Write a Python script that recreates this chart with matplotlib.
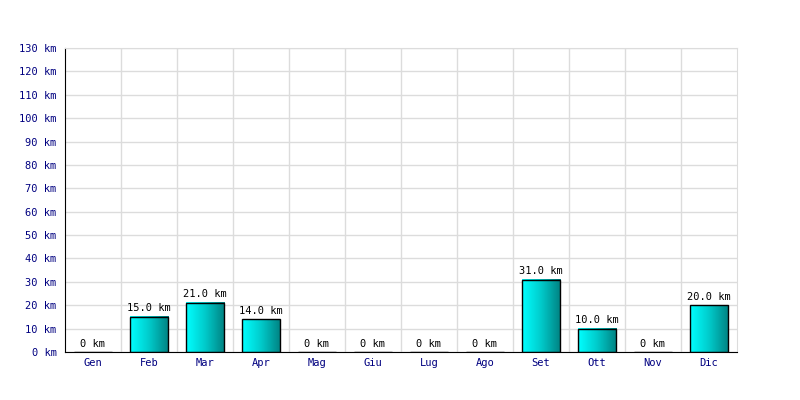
import numpy as np
import matplotlib
matplotlib.use('Agg')
from matplotlib import pyplot as plt
from matplotlib.colors import LinearSegmentedColormap

months = ['Gen', 'Feb', 'Mar', 'Apr', 'Mag', 'Giu', 'Lug', 'Ago', 'Set', 'Ott', 'Nov', 'Dic']
km = [0, 15, 21, 14, 0, 0, 0, 0, 31, 10, 0, 20]
yticks = list(range(0, 131, 10))

plt.rcParams['font.family'] = ['DejaVu Sans Mono']

fig = plt.figure(figsize=(8, 4), dpi=100)
ax = fig.add_axes([0.08125, 0.12, 0.84, 0.76])

x = np.arange(len(months))
bars = ax.bar(x, km, width=0.68, color='none', edgecolor='black', linewidth=1, zorder=3)

# horizontal gradient cyan -> teal inside each bar
cmap = LinearSegmentedColormap.from_list('cyanteal', ['#00ffff', '#00caca', '#008282'])
grad = np.linspace(0, 1, 64).reshape(1, -1)
for b in bars:
    if b.get_height() <= 0:
        continue
    x0, y0 = b.get_x(), b.get_y()
    ax.imshow(grad, cmap=cmap, aspect='auto', zorder=2,
              extent=(x0, x0 + b.get_width(), y0, y0 + b.get_height()))

for xi, v in zip(x, km):
    lbl = '0 km' if v == 0 else '%.1f km' % v
    ax.annotate(lbl, (xi, v), xytext=(0, 2.5), textcoords='offset points',
                ha='center', va='bottom', fontsize=7.5, color='black')

ax.set_xlim(-0.5, len(months) - 0.5)
ax.set_ylim(0, 130)
ax.set_yticks(yticks)
ax.set_yticklabels(['%d km' % t for t in yticks])
ax.set_xticks(x)
ax.set_xticklabels(months)
ax.tick_params(axis='y', length=0, labelsize=7.5, labelcolor='#000080', pad=6)
ax.tick_params(axis='x', length=0, labelsize=7.5, labelcolor='#000080', pad=4)

ax.set_xticks(np.arange(0.5, len(months) - 0.5, 1), minor=True)
ax.tick_params(which='minor', length=0)
ax.grid(True, which='major', axis='y', color='#dcdcdc', linewidth=1, zorder=0)
ax.grid(True, which='minor', axis='x', color='#dcdcdc', linewidth=1, zorder=0)
ax.set_axisbelow(True)

ax.spines['top'].set_color('#dcdcdc')
ax.spines['right'].set_color('#dcdcdc')
ax.spines['left'].set_color('black')
ax.spines['bottom'].set_color('black')

fig.savefig('out.png', dpi=100)
